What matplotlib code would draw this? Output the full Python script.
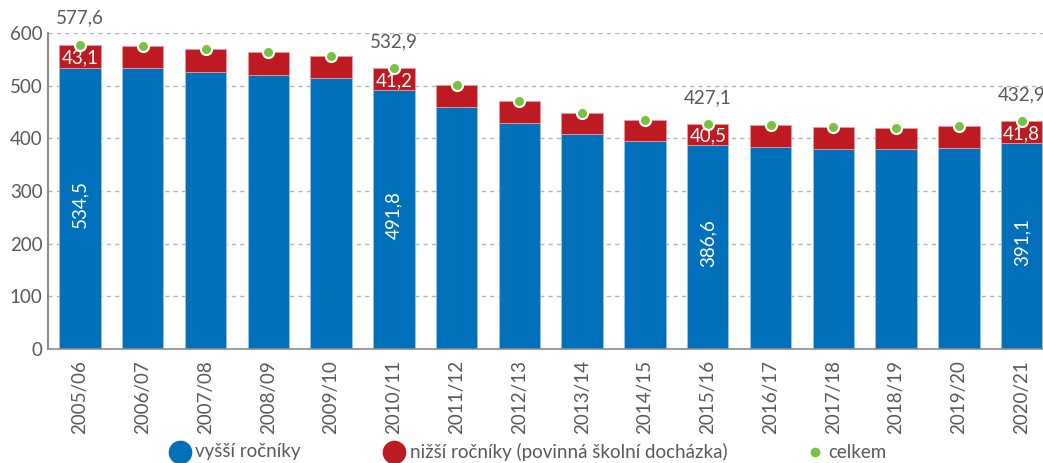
import matplotlib.pyplot as plt
from matplotlib.lines import Line2D

plt.rcParams['font.family'] = ['Lato', 'DejaVu Sans']

roky = ["2005/06", "2006/07", "2007/08", "2008/09", "2009/10", "2010/11", "2011/12",
        "2012/13", "2013/14", "2014/15", "2015/16", "2016/17", "2017/18", "2018/19",
        "2019/20", "2020/21"]
vyssi = [534.5, 533.0, 526.0, 521.0, 514.0, 491.8, 459.0, 430.0, 408.0, 395.0,
         386.6, 383.0, 380.0, 379.0, 381.0, 391.1]
nizsi = [43.1, 43.0, 43.0, 43.0, 42.0, 41.2, 42.0, 41.0, 41.0, 40.5,
         40.5, 41.5, 41.5, 41.0, 42.0, 41.8]
celkem = [577.6, 576.0, 569.0, 564.0, 556.0, 532.9, 501.0, 471.0, 449.0, 435.5,
          427.1, 424.5, 421.5, 420.0, 423.0, 432.9]
popsane = [0, 5, 10, 15]
legenda = ["vyšší ročníky", "nižší ročníky (povinná školní docházka)", "celkem"]

BLUE = "#0070ba"
RED = "#be1a21"
GREEN = "#7ac143"
GRAY = "#595959"


def fmt(v):
    return f"{v:.1f}".replace(".", ",")


fig = plt.figure(figsize=(10.43, 4.63), dpi=100)
ax = fig.add_axes([0.046, 0.2462, 0.954, 0.6825])

x = list(range(len(roky)))
ax.bar(x, vyssi, width=0.66, color=BLUE, edgecolor="#9cc3e6", linewidth=0.6, zorder=2)
ax.bar(x, nizsi, width=0.66, bottom=vyssi, color=RED, edgecolor="#e89a9d", linewidth=0.6, zorder=2)
ax.plot(x, celkem, linestyle="none", marker="o", markersize=8, color=GREEN,
        markeredgecolor="white", markeredgewidth=1.5, zorder=4)

for i in popsane:
    ax.text(i, vyssi[i] / 2 + 8, fmt(vyssi[i]), rotation=90, color="white",
            ha="center", va="center", fontsize=13.5, zorder=5)
    ax.text(i, vyssi[i] + nizsi[i] / 2 - 3, fmt(nizsi[i]), color="white",
            ha="center", va="center", fontsize=13.5, zorder=5)
    ax.annotate(fmt(celkem[i]), (i, celkem[i]), xytext=(0, 13), textcoords="offset points",
                color=GRAY, ha="center", va="bottom", fontsize=13.5, annotation_clip=False)

ax.set_xlim(-0.51, 15.34)
ax.set_ylim(0, 600)
ax.set_yticks(range(0, 601, 100))
ax.set_xticks(x)
ax.set_xticklabels(roky, rotation=90)
ax.tick_params(axis="both", length=0, colors=GRAY, labelsize=13.5)
ax.tick_params(axis="x", pad=8)
ax.tick_params(axis="y", pad=4)
ax.yaxis.grid(True, linestyle=(0, (3, 3)), color="#b5b5b5", linewidth=1)
ax.set_axisbelow(True)
for s in ["top", "right"]:
    ax.spines[s].set_visible(False)
ax.spines["left"].set_color("#8c8c8c")
ax.spines["left"].set_linewidth(1.5)
ax.spines["bottom"].set_color("#8c8c8c")
ax.spines["bottom"].set_linewidth(1.2)

# legenda rucne, at sedi rozestupy
ly = 1 - 452 / 463
for (mx, tx, barva, ms), text in zip([(180, 195, BLUE, 16), (394, 410, RED, 16), (815, 828, GREEN, 6)], legenda):
    fig.add_artist(Line2D([mx / 1043], [ly], linestyle="none", marker="o", markersize=ms,
                          color=barva, transform=fig.transFigure))
    fig.text(tx / 1043, ly, text, color=GRAY, fontsize=13.5, ha="left", va="center")

fig.savefig("out.png", dpi=100)
